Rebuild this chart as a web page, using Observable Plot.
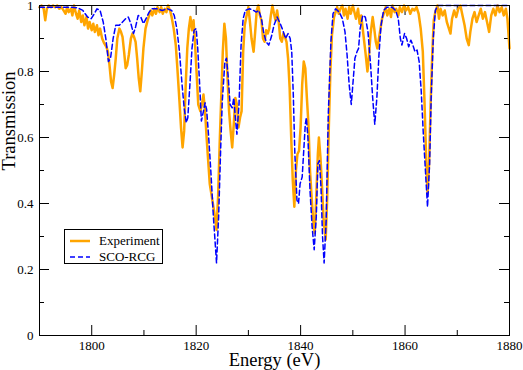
<!DOCTYPE html>
<html>
<head>
<meta charset="utf-8">
<script src="https://cdn.jsdelivr.net/npm/d3@7"></script>
<script src="https://cdn.jsdelivr.net/npm/@observablehq/plot@0.6"></script>
<style>
  html, body { margin: 0; padding: 0; background: #fff; }
  #wrap { position: relative; width: 523px; height: 370px; font-family: "Liberation Serif", "Times New Roman", serif; }
  #wrap svg, #wrap svg text, #wrap svg g { font-family: "Liberation Serif", "Times New Roman", serif !important; }
  #legend { position: absolute; left: 64px; top: 229px; width: 99px; height: 35px; border: 1px solid #000; background: #fff; box-sizing: border-box; }
  #legend .row { position: absolute; left: 0; height: 16px; display: flex; align-items: center; font-family: "Liberation Serif", "Times New Roman", serif; font-weight: normal; font-size: 13px; color: #000; white-space: nowrap; }
  #legend svg { display: block; margin-left: 5px; margin-right: 9px; }
</style>
</head>
<body>
<div id="wrap"></div>
<script>
// ---- data ----
const seriesNames = ["Experiment", "SCO-RCG"];
const seriesColors = ["#FFA500", "#0000FF"];

// Experiment: [energy (eV), transmission]
const experiment = [
[1790.0,0.995],[1790.4,1.0],[1790.8,0.99],[1791.1,0.955],[1791.4,0.99],[1791.8,1.0],[1792.2,0.995],[1792.6,1.0],
[1793.0,0.995],[1793.4,1.0],[1793.8,0.99],[1794.2,0.995],[1794.6,0.985],[1795.0,0.975],[1795.3,0.995],[1795.6,0.98],
[1796.0,0.99],[1796.3,0.97],[1796.6,1.0],[1797.0,0.975],[1797.3,0.96],[1797.6,0.985],[1798.0,0.95],[1798.3,0.97],
[1798.6,0.94],[1799.0,0.965],[1799.3,0.93],[1799.6,0.95],[1800.0,0.925],[1800.3,0.945],[1800.6,0.92],[1801.0,0.94],
[1801.3,0.91],[1801.6,0.93],[1802.0,0.9],[1802.4,0.885],[1802.8,0.875],[1803.1,0.86],[1803.4,0.82],[1803.7,0.77],
[1804.0,0.75],[1804.3,0.79],[1804.6,0.84],[1804.9,0.9],[1805.3,0.93],[1805.6,0.92],[1805.9,0.905],[1806.2,0.86],
[1806.5,0.81],[1806.8,0.82],[1807.1,0.85],[1807.5,0.9],[1807.8,0.915],[1808.1,0.905],[1808.4,0.89],[1808.7,0.84],
[1809.0,0.78],[1809.3,0.74],[1809.6,0.8],[1809.9,0.87],[1810.3,0.93],[1810.7,0.955],[1811.0,0.97],[1811.3,0.985],
[1811.6,0.97],[1812.0,0.99],[1812.3,0.975],[1812.6,0.995],[1813.0,0.98],[1813.3,0.995],[1813.6,0.975],[1814.0,0.99],
[1814.3,0.98],[1814.6,1.0],[1815.0,0.985],[1815.3,0.965],[1815.7,0.93],[1816.1,0.88],[1816.4,0.81],[1816.8,0.71],
[1817.1,0.63],[1817.4,0.57],[1817.7,0.62],[1818.0,0.76],[1818.3,0.87],[1818.6,0.93],[1818.9,0.965],[1819.2,0.925],
[1819.5,0.955],[1819.8,0.88],[1820.1,0.79],[1820.4,0.7],[1820.8,0.68],[1821.1,0.7],[1821.4,0.73],[1821.7,0.68],
[1822.0,0.6],[1822.3,0.53],[1822.6,0.46],[1822.9,0.43],[1823.3,0.39],[1823.6,0.36],[1823.9,0.32],[1824.2,0.42],
[1824.5,0.58],[1824.8,0.72],[1825.1,0.86],[1825.4,0.945],[1825.7,0.9],[1826.0,0.78],[1826.3,0.68],[1826.6,0.62],
[1826.9,0.57],[1827.2,0.64],[1827.5,0.72],[1827.8,0.7],[1828.1,0.63],[1828.4,0.66],[1828.7,0.68],[1829.0,0.86],
[1829.3,0.94],[1829.6,0.965],[1830.0,0.995],[1830.3,0.95],[1830.6,0.9],[1831.0,0.86],[1831.3,0.92],[1831.6,0.985],
[1831.9,1.0],[1832.2,0.97],[1832.5,0.955],[1832.8,0.9],[1833.1,0.89],[1833.4,0.925],[1833.7,0.915],[1834.0,0.93],
[1834.3,0.97],[1834.6,1.0],[1834.9,0.975],[1835.2,0.955],[1835.5,0.985],[1835.8,0.95],[1836.1,0.9],[1836.4,0.89],
[1836.7,0.915],[1837.0,0.905],[1837.3,0.89],[1837.6,0.84],[1837.9,0.75],[1838.2,0.6],[1838.5,0.47],[1838.8,0.39],
[1839.1,0.5],[1839.4,0.55],[1839.7,0.56],[1840.0,0.63],[1840.3,0.76],[1840.6,0.83],[1840.9,0.81],[1841.2,0.72],
[1841.5,0.64],[1841.8,0.5],[1842.1,0.42],[1842.4,0.35],[1842.7,0.31],[1843.0,0.42],[1843.3,0.55],[1843.5,0.6],
[1843.8,0.54],[1844.1,0.45],[1844.4,0.35],[1844.8,0.29],[1845.1,0.42],[1845.4,0.63],[1845.7,0.8],[1846.0,0.91],
[1846.4,0.965],[1846.7,0.98],[1847.0,0.995],[1847.3,0.975],[1847.6,0.99],[1848.0,1.0],[1848.3,0.97],[1848.6,0.99],
[1849.0,0.96],[1849.3,0.995],[1849.6,0.975],[1850.0,1.0],[1850.3,0.98],[1850.6,0.96],[1851.0,0.99],[1851.3,0.945],
[1851.6,0.97],[1852.0,0.915],[1852.4,0.86],[1852.8,0.8],[1853.1,0.85],[1853.4,0.915],[1853.8,0.965],[1854.1,0.93],
[1854.4,0.89],[1854.7,0.87],[1855.0,0.9],[1855.3,0.93],[1855.6,0.96],[1856.0,0.98],[1856.3,0.995],[1856.6,0.97],
[1857.0,0.99],[1857.3,0.965],[1857.6,1.0],[1858.0,0.98],[1858.3,0.99],[1858.7,0.97],[1859.0,0.995],[1859.4,0.98],
[1859.8,1.0],[1860.2,0.985],[1860.6,0.995],[1861.0,0.975],[1861.4,0.99],[1861.8,0.985],[1862.2,0.995],[1862.6,0.975],
[1863.0,0.93],[1863.4,0.86],[1863.7,0.72],[1864.0,0.56],[1864.3,0.43],[1864.6,0.52],[1864.9,0.7],[1865.2,0.85],
[1865.5,0.955],[1865.8,0.98],[1866.2,1.0],[1866.5,0.96],[1866.8,0.99],[1867.2,0.97],[1867.6,0.985],[1868.0,0.95],
[1868.4,0.93],[1868.7,0.915],[1869.0,0.96],[1869.4,0.985],[1869.8,0.965],[1870.2,0.99],[1870.6,1.0],[1871.0,0.97],
[1871.4,0.94],[1871.8,0.9],[1872.2,0.88],[1872.5,0.92],[1872.9,0.96],[1873.3,0.98],[1873.7,0.95],[1874.1,0.97],
[1874.5,0.99],[1874.9,0.96],[1875.3,0.98],[1875.7,0.95],[1876.1,0.92],[1876.5,0.97],[1876.9,0.99],[1877.3,0.97],
[1877.7,1.0],[1878.1,0.98],[1878.5,0.995],[1878.9,0.97],[1879.3,0.99],[1879.6,0.96],[1880.0,0.87]
];

// SCO-RCG calculation: [energy (eV), transmission]
const scoRcg = [
[1790,0.995],[1792,0.995],[1794,0.995],[1796,0.995],[1797.3,0.993],[1798.3,0.985],[1799.2,0.965],[1799.9,0.96],
[1800.5,0.975],[1801.0,0.99],[1801.6,0.985],[1802.2,0.95],[1802.7,0.9],[1803.2,0.83],[1803.6,0.84],[1804.1,0.9],
[1804.6,0.94],[1805.3,0.94],[1805.9,0.95],[1806.5,0.96],[1807.0,0.965],[1807.5,0.945],[1808.0,0.915],[1808.4,0.935],
[1808.9,0.97],[1809.4,0.965],[1809.9,0.945],[1810.4,0.96],[1811.0,0.98],[1811.5,0.99],[1812.5,0.99],[1813.5,0.985],
[1814.5,0.99],[1815.3,0.985],[1815.8,0.97],[1816.3,0.93],[1816.8,0.86],[1817.3,0.76],[1817.7,0.69],[1818.1,0.645],
[1818.4,0.66],[1818.8,0.76],[1819.2,0.87],[1819.6,0.925],[1820.0,0.93],[1820.3,0.87],[1820.7,0.75],[1821.0,0.65],
[1821.4,0.68],[1821.7,0.705],[1822.0,0.685],[1822.4,0.6],[1822.8,0.5],[1823.3,0.36],[1823.9,0.22],[1824.3,0.36],
[1824.7,0.57],[1825.0,0.71],[1825.5,0.83],[1825.8,0.84],[1826.1,0.79],[1826.5,0.7],[1826.9,0.69],[1827.2,0.72],
[1827.5,0.66],[1827.8,0.61],[1828.2,0.7],[1828.6,0.88],[1829.0,0.96],[1829.4,0.985],[1830.2,0.99],[1831.0,0.985],
[1831.5,0.98],[1832.0,0.985],[1832.5,0.96],[1832.9,0.92],[1833.4,0.89],[1833.9,0.88],[1834.4,0.905],[1834.9,0.94],
[1835.5,0.965],[1836.1,0.945],[1836.6,0.925],[1837.1,0.9],[1837.6,0.915],[1838.0,0.9],[1838.3,0.86],[1838.6,0.73],
[1838.9,0.55],[1839.3,0.41],[1839.6,0.4],[1839.9,0.46],[1840.3,0.48],[1840.6,0.56],[1840.9,0.64],[1841.1,0.66],
[1841.4,0.6],[1841.8,0.44],[1842.2,0.33],[1842.6,0.26],[1843.0,0.36],[1843.3,0.52],[1843.6,0.53],[1843.9,0.45],
[1844.2,0.3],[1844.5,0.22],[1844.9,0.35],[1845.3,0.67],[1845.8,0.89],[1846.2,0.975],[1846.7,0.99],[1847.4,0.98],
[1848.0,0.96],[1848.5,0.92],[1848.9,0.85],[1849.3,0.76],[1849.7,0.70],[1850.0,0.76],[1850.4,0.84],[1850.8,0.86],
[1851.1,0.87],[1851.4,0.93],[1851.9,0.97],[1852.4,0.965],[1852.9,0.92],[1853.4,0.82],[1853.8,0.72],[1854.2,0.64],
[1854.6,0.72],[1855.0,0.85],[1855.4,0.94],[1855.9,0.985],[1856.5,0.995],[1857.5,0.995],[1858.2,0.985],[1858.7,0.96],
[1859.1,0.9],[1859.4,0.88],[1859.9,0.915],[1860.3,0.9],[1860.7,0.875],[1861.1,0.895],[1861.5,0.88],[1861.9,0.86],
[1862.3,0.865],[1862.7,0.83],[1863.1,0.74],[1863.5,0.61],[1863.9,0.5],[1864.3,0.39],[1864.7,0.52],[1865.0,0.72],
[1865.4,0.9],[1865.8,0.985],[1866.3,1.0],[1870,1.0],[1875,1.0],[1880,1.0]
];

const xDomain = [1790, 1880];
const yDomain = [0, 1];
const xMajorTicks = [1800, 1820, 1840, 1860, 1880];
const xMinorTicks = [1810, 1830, 1850, 1870];
const yMajorTicks = [0, 0.2, 0.4, 0.6, 0.8, 1];
const yInnerMajorTicks = [0.2, 0.4, 0.6, 0.8];
const yMinorTicks = [0.1, 0.3, 0.5, 0.7, 0.9];
const xLabel = "Energy (eV)";
const yLabel = "Transmission";

// ---- layout ----
const W = 523, H = 370;
const mL = 39, mR = 14, mT = 5, mB = 35;
const frameW = W - mL - mR, frameH = H - mT - mB;
const majorLen = 10, minorLen = 5;
const serif = "'Liberation Serif', 'Times New Roman', serif";

const chart = Plot.plot({
  width: W,
  height: H,
  marginLeft: mL,
  marginRight: mR,
  marginTop: mT,
  marginBottom: mB,
  style: { fontFamily: serif, fontSize: "13px", background: "#fff", color: "#000", overflow: "visible" },
  x: { domain: xDomain, ticks: xMajorTicks, tickSize: 0, tickPadding: 5, tickFormat: d => String(d), label: null },
  y: { domain: yDomain, ticks: yMajorTicks, tickSize: 0, tickPadding: 6, tickFormat: d => String(d), label: null },
  marks: [
    // inward ticks: bottom, top, left, right
    Plot.ruleX(xMajorTicks, { stroke: "#000", strokeWidth: 1, insetTop: frameH - majorLen }),
    Plot.ruleX(xMinorTicks, { stroke: "#000", strokeWidth: 1, insetTop: frameH - minorLen }),
    Plot.ruleX(xMajorTicks, { stroke: "#000", strokeWidth: 1, insetBottom: frameH - majorLen }),
    Plot.ruleX(xMinorTicks, { stroke: "#000", strokeWidth: 1, insetBottom: frameH - minorLen }),
    Plot.ruleY(yInnerMajorTicks, { stroke: "#000", strokeWidth: 1, insetRight: frameW - majorLen }),
    Plot.ruleY(yMinorTicks, { stroke: "#000", strokeWidth: 1, insetRight: frameW - minorLen }),
    Plot.ruleY(yInnerMajorTicks, { stroke: "#000", strokeWidth: 1, insetLeft: frameW - majorLen }),
    Plot.ruleY(yMinorTicks, { stroke: "#000", strokeWidth: 1, insetLeft: frameW - minorLen }),
    Plot.line(experiment, { x: d => d[0], y: d => d[1], stroke: seriesColors[0], strokeWidth: 2.5, curve: "linear" }),
    Plot.line(scoRcg, { x: d => d[0], y: d => d[1], stroke: seriesColors[1], strokeWidth: 1.5, strokeDasharray: "5,3", curve: "linear" }),
    Plot.frame({ stroke: "#000", strokeWidth: 1 }),
    Plot.text([xLabel], { text: d => d, frameAnchor: "bottom", dy: 25, fontSize: 18.5, fontFamily: serif, lineAnchor: "middle", fill: "#000" }),
    Plot.text([yLabel], { text: d => d, frameAnchor: "left", dx: -30, rotate: -90, fontSize: 18.5, fontFamily: serif, lineAnchor: "middle", fill: "#000" })
  ]
});

const wrap = document.getElementById("wrap");
wrap.appendChild(chart);

// legend (inside the plot area, lower left)
const legend = document.createElement("div");
legend.id = "legend";
seriesNames.forEach((name, i) => {
  const row = document.createElement("div");
  row.className = "row";
  row.style.top = (i === 0 ? 3 : 19) + "px";
  const dash = i === 1 ? ' stroke-dasharray="5,3"' : "";
  const sw = i === 0 ? 2.5 : 1.5;
  row.innerHTML = `<svg width="20" height="6"><line x1="0" y1="3" x2="20" y2="3" stroke="${seriesColors[i]}" stroke-width="${sw}"${dash}/></svg><span>${name}</span>`;
  legend.appendChild(row);
});
wrap.appendChild(legend);
</script>
</body>
</html>
